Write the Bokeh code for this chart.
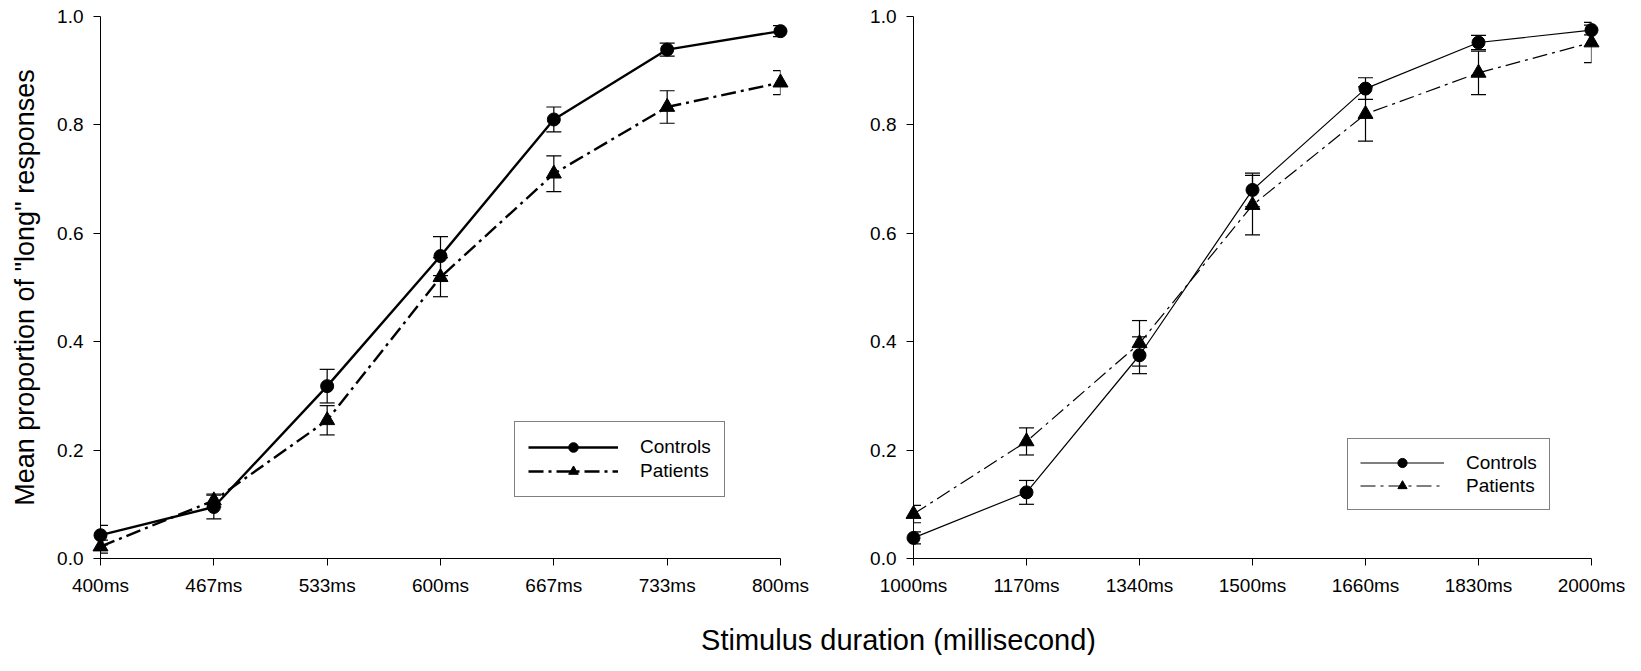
from bokeh.plotting import figure
from bokeh.layouts import column, row
from bokeh.models import (ColumnDataSource, Whisker, TeeHead, FixedTicker, Legend,
                          LegendItem, Range1d, Label, PrintfTickFormatter)
from bokeh.embed import file_html
from bokeh.resources import INLINE

# ---------------- data ----------------
left_labels = ["400ms", "467ms", "533ms", "600ms", "667ms", "733ms", "800ms"]
right_labels = ["1000ms", "1170ms", "1340ms", "1500ms", "1660ms", "1830ms", "2000ms"]
y_ticks = [0.0, 0.2, 0.4, 0.6, 0.8, 1.0]

left_controls = [0.043, 0.095, 0.318, 0.558, 0.810, 0.939, 0.973]
left_controls_err = [0.018, 0.022, 0.031, 0.036, 0.023, 0.012, 0.010]
left_patients = [0.022, 0.107, 0.255, 0.519, 0.710, 0.833, 0.878]
left_patients_err = [0.012, 0.012, 0.027, 0.036, 0.033, 0.030, 0.022]

right_controls = [0.038, 0.122, 0.375, 0.680, 0.867, 0.952, 0.975]
right_controls_err = [0.011, 0.022, 0.034, 0.031, 0.020, 0.013, 0.009]
right_patients = [0.082, 0.216, 0.397, 0.652, 0.820, 0.896, 0.952]
right_patients_err = [0.016, 0.025, 0.042, 0.055, 0.050, 0.040, 0.037]

series_names = ["Controls", "Patients"]
y_title = 'Mean proportion of "long" responses'
x_title = "Stimulus duration (millisecond)"

FONT = "Liberation Sans"
DASHDOT = "15 5 3 5"


def make_panel(labels, ctrl, ctrl_err, pat, pat_err, lw, legend_loc, glyph_w,
               glyph_h, pad, y_label=None, **fig_kw):
    xs = list(range(len(labels)))
    p = figure(x_range=Range1d(0, len(labels) - 1), y_range=Range1d(0, 1),
               output_backend="svg", toolbar_location=None, **fig_kw)
    p.xgrid.visible = False
    p.ygrid.visible = False
    p.outline_line_color = None
    p.background_fill_color = "white"
    p.border_fill_color = "white"

    for ax in (p.xaxis[0], p.yaxis[0]):
        ax.axis_line_color = "black"
        ax.axis_line_width = 1
        ax.major_tick_line_color = "black"
        ax.major_tick_out = 7
        ax.major_tick_in = 0
        ax.minor_tick_line_color = None
        ax.major_label_text_font = FONT
        ax.major_label_text_font_size = "19px"
        ax.major_label_text_color = "black"
        ax.major_label_standoff = 10
    p.xaxis[0].ticker = FixedTicker(ticks=xs)
    p.xaxis[0].major_label_overrides = {i: lab for i, lab in enumerate(labels)}
    p.xaxis[0].major_label_standoff = 9
    p.yaxis[0].ticker = FixedTicker(ticks=y_ticks)
    p.yaxis[0].formatter = PrintfTickFormatter(format="%.1f")
    if y_label:
        p.yaxis[0].axis_label = y_label
        p.yaxis[0].axis_label_text_font = FONT
        p.yaxis[0].axis_label_text_font_size = "27px"
        p.yaxis[0].axis_label_text_font_style = "normal"
        p.yaxis[0].axis_label_text_color = "black"
        p.yaxis[0].axis_label_standoff = 14

    src_c = ColumnDataSource(dict(x=xs, y=ctrl,
                                  lo=[v - e for v, e in zip(ctrl, ctrl_err)],
                                  hi=[v + e for v, e in zip(ctrl, ctrl_err)]))
    src_p = ColumnDataSource(dict(x=xs, y=pat,
                                  lo=[v - e for v, e in zip(pat, pat_err)],
                                  hi=[v + e for v, e in zip(pat, pat_err)]))

    for src in (src_c, src_p):
        w = Whisker(base="x", upper="hi", lower="lo", source=src,
                    line_color="black", line_width=1.2, level="overlay",
                    upper_head=TeeHead(size=15, line_color="black", line_width=1.2),
                    lower_head=TeeHead(size=15, line_color="black", line_width=1.2))
        p.add_layout(w)

    lc = p.line("x", "y", source=src_c, line_color="black", line_width=lw, level="overlay")
    sc = p.scatter("x", "y", source=src_c, marker="circle", size=13,
                   fill_color="black", line_color="black", level="overlay")
    lp = p.line("x", "y", source=src_p, line_color="black", line_width=lw,
                line_dash=DASHDOT, level="overlay")
    sp = p.scatter("x", "y", source=src_p, marker="triangle", size=15,
                   fill_color="black", line_color="black", level="overlay")

    legend = Legend(items=[LegendItem(label=series_names[0], renderers=[lc, sc]),
                           LegendItem(label=series_names[1], renderers=[lp, sp])],
                    location=legend_loc, glyph_width=glyph_w, glyph_height=glyph_h,
                    label_height=20, label_standoff=22, padding=pad, spacing=0,
                    margin=0, border_line_color="black", border_line_width=1,
                    label_text_font=FONT, label_text_font_size="19px",
                    label_text_color="black", background_fill_color="white",
                    background_fill_alpha=1.0)
    p.add_layout(legend)
    return p


p1 = make_panel(left_labels, left_controls, left_controls_err, left_patients,
                left_patients_err, 2.4, (414, 61), 90, 24, 13, y_label=y_title,
                frame_width=680, frame_height=542, min_border_left=100,
                min_border_right=40, min_border_top=16, min_border_bottom=40)
p2 = make_panel(right_labels, right_controls, right_controls_err, right_patients,
                right_patients_err, 1.2, (434, 48), 84, 23, 12,
                frame_width=678, frame_height=542, min_border_left=93,
                min_border_right=34, min_border_top=16, min_border_bottom=40)

pt = figure(width=1625, height=57, x_range=Range1d(0, 1), y_range=Range1d(0, 1),
            x_axis_type=None, y_axis_type=None, output_backend="svg",
            toolbar_location=None, min_border=0)
pt.xgrid.visible = False
pt.ygrid.visible = False
pt.outline_line_color = None
pt.border_fill_color = "white"
pt.background_fill_color = "white"
pt.add_layout(Label(x=898, y=16, x_units="screen", y_units="screen", text=x_title,
                    text_align="center", text_baseline="middle",
                    text_font=FONT, text_font_size="29px", text_color="black"))

layout = column(row(p1, p2), pt)
open("out.html", "w").write(file_html(layout, INLINE))
